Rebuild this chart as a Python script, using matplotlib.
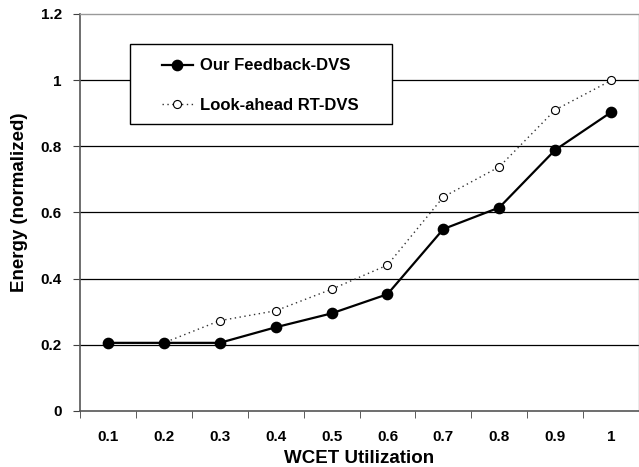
import matplotlib
matplotlib.use("Agg")
import matplotlib.pyplot as plt
from matplotlib.patches import Rectangle
import numpy as np

categories = ["0.1", "0.2", "0.3", "0.4", "0.5", "0.6", "0.7", "0.8", "0.9", "1"]
feedback = [0.206, 0.206, 0.206, 0.253, 0.295, 0.353, 0.55, 0.615, 0.789, 0.903]
lookahead = [0.206, 0.206, 0.273, 0.303, 0.368, 0.441, 0.647, 0.738, 0.910, 0.999]
yticks = [0, 0.2, 0.4, 0.6, 0.8, 1, 1.2]
ytick_labels = ["0", "0.2", "0.4", "0.6", "0.8", "1", "1.2"]

plt.rcParams['font.family'] = ['Liberation Sans', 'DejaVu Sans']
plt.rcParams['font.weight'] = 'bold'

W, H = 639, 467
fig = plt.figure(figsize=(W / 100, H / 100), dpi=100)
L, R, T, B = 80, 639, 14, 411
ax = fig.add_axes([L / W, 1 - B / H, (R - L) / W, (B - T) / H])

def ax_x(px):
    return (px - L) / (R - L)

def ax_y(py):
    return (B - py) / (B - T)

x = np.arange(len(categories))
ax.plot(x, lookahead, linestyle=(0, (1, 2.5)), color='#333333', linewidth=1.0,
        marker='o', markersize=5.8, markerfacecolor='white', markeredgecolor='black',
        markeredgewidth=0.8, label='Look-ahead RT-DVS', zorder=3)
ax.plot(x, feedback, linestyle='-', color='black', linewidth=1.6,
        marker='o', markersize=7.4, markerfacecolor='black', markeredgecolor='black',
        label='Our Feedback-DVS', zorder=4)

ax.set_xlim(-0.5, len(categories) - 0.5)
ax.set_ylim(0, 1.2)
ax.set_yticks(yticks)
ax.set_yticklabels(ytick_labels, fontsize=11, fontweight='bold')
ax.set_xticks(x)
ax.set_xticklabels(categories, fontsize=11, fontweight='bold')
ax.tick_params(axis='x', length=0, pad=14)
ax.set_xticks(np.arange(-0.5, len(categories), 1), minor=True)
ax.tick_params(axis='x', which='minor', length=5, direction='out', color='#404040')
ax.tick_params(axis='y', length=5, direction='out', color='#404040', pad=8)

for yv in yticks[1:-1]:
    ax.axhline(yv, color='black', linewidth=0.9, zorder=1)

for s in ['left', 'bottom']:
    ax.spines[s].set_color('#555555')
    ax.spines[s].set_linewidth(1.2)
for s in ['top', 'right']:
    ax.spines[s].set_color('#999999')
    ax.spines[s].set_linewidth(1.0)

ax.set_xlabel("WCET Utilization", fontsize=13.5, fontweight='bold')
ax.xaxis.set_label_coords(0.5, ax_y(450), transform=ax.transAxes)
ax.xaxis.label.set_va('top')
ax.set_ylabel("Energy (normalized)", fontsize=13.5, fontweight='bold')
ax.yaxis.set_label_coords(ax_x(19), ax_y(202), transform=ax.transAxes)
ax.yaxis.label.set_va('center')

# legend box
box = Rectangle((ax_x(130), ax_y(124)), ax_x(392) - ax_x(130), ax_y(44) - ax_y(124),
                transform=ax.transAxes, facecolor='white', edgecolor='black',
                linewidth=1.0, zorder=5)
ax.add_patch(box)

handles, labels = ax.get_legend_handles_labels()
leg = ax.legend(handles[::-1], labels[::-1], loc='center left',
                bbox_to_anchor=(ax_x(162), ax_y(85.5)),
                frameon=False, prop={'weight': 'bold', 'size': 12},
                handlelength=1.85, borderpad=0, labelspacing=1.45, handletextpad=0.4,
                borderaxespad=0)
leg.set_zorder(6)

fig.savefig("out.png", dpi=100, facecolor='white')
